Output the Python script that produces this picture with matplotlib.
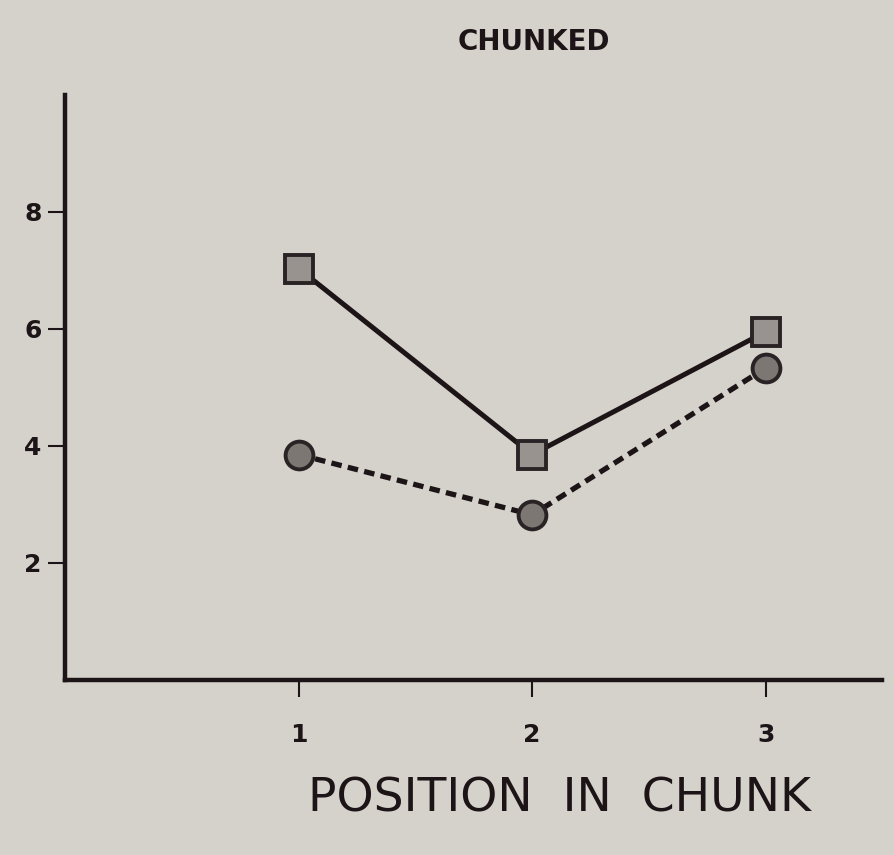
import matplotlib.pyplot as plt

#==========================
# DATA
#==========================
positions = [1, 2, 3]
squares = [7.03, 3.85, 5.95]
circles = [3.85, 2.82, 5.33]
yticks = [2, 4, 6, 8]
xticks = [1, 2, 3]

bg = '#d5d2cb'
ink = '#1c1416'

fig = plt.figure(figsize=(8.94, 8.55), dpi=100, facecolor=bg)
ax = fig.add_axes([0.073, 0.205, 0.914, 0.684], facecolor=bg)

ax.plot(positions, squares, color=ink, lw=3.6, ls='-', zorder=2)
ax.plot(positions, circles, color=ink, lw=3.8, ls=(0, (2.0, 1.2)), zorder=2)
ax.plot(positions, squares, ls='none', marker='s', ms=20, mfc='#98938e',
        mec='#2a2325', mew=2.8, zorder=3)
ax.plot(positions, circles, ls='none', marker='o', ms=20, mfc='#7d7773',
        mec='#2a2325', mew=2.8, zorder=3)

ax.set_xlim(0, 3.5)
ax.set_ylim(0, 10)
ax.set_xticks(xticks)
ax.set_yticks(yticks)
ax.set_xticklabels([str(t) for t in xticks], fontsize=18, fontweight='bold', color=ink)
ax.set_yticklabels([str(t) for t in yticks], fontsize=18, fontweight='bold', color=ink)
ax.tick_params(axis='y', length=12, width=1.5, color=ink, pad=5)
ax.tick_params(axis='x', length=12, width=1.5, color=ink, pad=19)

for s in ['top', 'right']:
    ax.spines[s].set_visible(False)
for s in ['left', 'bottom']:
    ax.spines[s].set_linewidth(3.2)
    ax.spines[s].set_color(ink)

fig.text(0.597, 0.951, 'CHUNKED', ha='center', va='center', fontsize=20,
         fontweight='bold', color=ink)
fig.text(0.626, 0.065, 'POSITION  IN  CHUNK', ha='center', va='center',
         fontsize=34, color=ink)

fig.savefig('out.png', dpi=100, facecolor=bg)
